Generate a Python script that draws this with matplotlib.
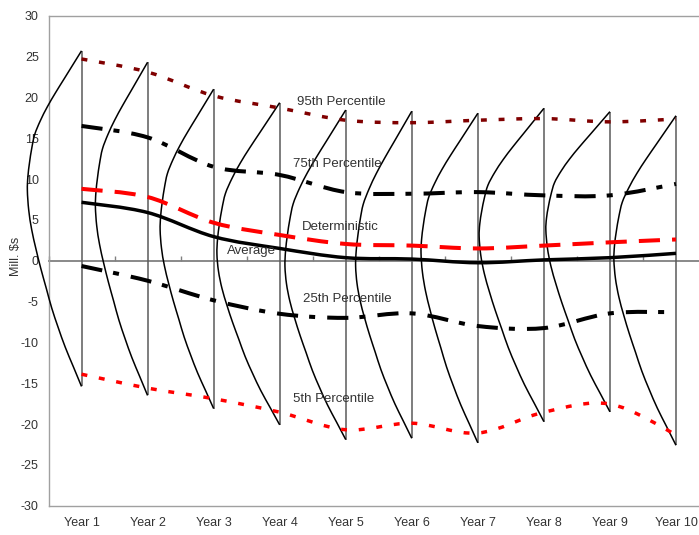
import numpy as np
import matplotlib
matplotlib.use("Agg")
import matplotlib.pyplot as plt
from matplotlib.path import Path
from matplotlib.patches import PathPatch

plt.rcParams["font.family"] = ["Liberation Sans", "DejaVu Sans"]
plt.rcParams["axes.unicode_minus"] = False

# ---- data -------------------------------------------------------------
years = ["Year 1", "Year 2", "Year 3", "Year 4", "Year 5",
         "Year 6", "Year 7", "Year 8", "Year 9", "Year 10"]

p95 = [24.7, 23.1, 20.2, 18.7, 17.2, 16.9, 17.2, 17.4, 17.0, 17.35]
p75 = [16.5, 15.1, 11.5, 10.5, 8.4, 8.2, 8.4, 8.0, 8.0, 9.4]
deterministic = [8.8, 7.8, 4.65, 3.15, 2.05, 1.85, 1.5, 1.85, 2.25, 2.6]
average = [7.15, 5.9, 2.95, 1.5, 0.37, 0.2, -0.25, 0.1, 0.37, 0.9]
p25 = [-0.65, -2.45, -4.85, -6.5, -7.0, -6.45, -8.0, -8.25, -6.45, -6.3]
p5 = [-13.9, -15.6, -16.9, -18.55, -20.7, -19.9, -21.1, -18.55, -17.55, -21.3]

# simulated distribution per year: range, most likely value, peak density
dist_max = [25.7, 24.3, 21.0, 19.35, 18.45, 18.3, 18.05, 18.65, 18.25, 17.75]
dist_min = [-15.4, -16.5, -18.1, -20.1, -21.9, -21.75, -22.3, -19.7, -18.5, -22.6]
dist_mode = [8.6, 6.6, 3.75, 0.8, -0.7, -0.7, 0.9, 2.95, 3.75, 0.1]
dist_peak = [0.82, 0.79, 0.81, 0.95, 0.92, 0.85, 0.86, 0.98, 0.97, 0.94]

# density shape (relative to the peak) above and below the mode
upper_frac = [0.0, 0.1, 0.2, 0.3, 0.4, 0.5, 0.6, 0.7, 0.8, 0.9, 1.0]
upper_dens = [1.0, 0.99, 0.96, 0.92, 0.865, 0.76, 0.63, 0.48, 0.32, 0.16, 0.0]
lower_frac = [0.0, 0.1, 0.2, 0.3, 0.4, 0.5, 0.6, 0.7, 0.8, 0.9, 1.0]
lower_dens = [1.0, 0.975, 0.92, 0.84, 0.75, 0.65, 0.55, 0.43, 0.30, 0.15, 0.0]


def smooth_path(xs, ys):
    """Catmull-Rom style smoothed path through the given points."""
    pts = np.column_stack([xs, ys]).astype(float)
    n = len(pts)
    verts = [pts[0]]
    codes = [Path.MOVETO]
    for i in range(n - 1):
        a = pts[i - 1] if i > 0 else pts[i]
        b = pts[i]
        c = pts[i + 1]
        d = pts[i + 2] if i + 2 < n else pts[i + 1]
        verts += [b + (c - a) / 6.0, c - (d - b) / 6.0, c]
        codes += [Path.CURVE4] * 3
    return Path(verts, codes)


W, H, DPI = 699, 535, 100
fig = plt.figure(figsize=(W / DPI, H / DPI), dpi=DPI)
left_px, right_px, top_px, bottom_px = 48.5, 709.0, 15.7, 505.7
ax = fig.add_axes([left_px / W, 1 - bottom_px / H,
                   (right_px - left_px) / W, (bottom_px - top_px) / H])

x = np.arange(1, len(years) + 1)

# distribution curves with their vertical baselines
ax.vlines(x, dist_min, dist_max, colors="#5a5a5a", lw=1.1, zorder=2)
for xi, lo, hi, mo, pk in zip(x, dist_min, dist_max, dist_mode, dist_peak):
    cx, cy = [], []
    for f, d in zip(upper_frac[::-1], upper_dens[::-1]):
        cx.append(xi - d * pk)
        cy.append(mo + f * (hi - mo))
    for f, d in zip(lower_frac[1:], lower_dens[1:]):
        cx.append(xi - d * pk)
        cy.append(mo - f * (mo - lo))
    ax.add_patch(PathPatch(smooth_path(cx, cy), fill=False, edgecolor="black",
                           lw=1.1, zorder=3, clip_on=False))

# percentile / summary lines
series = [
    (p95, "#800000", 2.5, (0, (1.7, 3.4))),
    (p75, "black", 2.9, (0, (5.25, 2.75, 1.5, 3.0))),
    (deterministic, "#ff0000", 2.9, (0, (5.25, 3.0))),
    (average, "black", 2.5, "solid"),
    (p25, "black", 2.9, (0, (5.25, 2.75, 1.5, 3.0))),
    (p5, "#ff0000", 2.5, (0, (1.7, 3.4))),
]
for vals, col, lw, ls in series:
    ax.add_patch(PathPatch(smooth_path(x, vals), fill=False, edgecolor=col,
                           lw=lw, linestyle=ls, capstyle="butt",
                           joinstyle="round", zorder=4))

labels = [
    ("95th Percentile", 4.26, 19.47),
    ("75th Percentile", 4.20, 11.8),
    ("Deterministic", 4.33, 4.16),
    ("Average", 3.20, 1.19),
    ("25th Percentile", 4.35, -4.73),
    ("5th Percentile", 4.20, -16.97),
]
for txt, lx, ly in labels:
    ax.text(lx, ly, txt, fontsize=9.5, color="#333333", ha="left",
            va="center", zorder=5)

# axes styling
ax.set_xlim(0.5, 10.5)
ax.set_ylim(-30, 30)
ax.set_yticks(np.arange(-30, 31, 5))
ax.set_xticks(x)
ax.set_xticklabels(years)
ax.tick_params(axis="y", length=0, pad=7, labelsize=9, labelcolor="#333333")
ax.tick_params(axis="x", length=0, pad=8, labelsize=9, labelcolor="#333333")
for side in ("left", "top", "bottom"):
    ax.spines[side].set_color("#a0a0a0")
    ax.spines[side].set_linewidth(1.0)
ax.spines["right"].set_visible(False)

# category axis crossing at zero
zero_axis = ax.secondary_xaxis(0.5)
zero_axis.set_xticks(np.arange(0.5, 10.6, 1.0))
zero_axis.tick_params(axis="x", direction="out", length=3.5, width=1.0,
                      color="#808080", labelbottom=False, labeltop=False)
for sp in zero_axis.spines.values():
    sp.set_color("#808080")
    sp.set_linewidth(1.3)

fig.text(16 / W, 1 - 256 / H, "Mill. \\$s", rotation=90, fontsize=9,
         color="#333333", ha="center", va="center")

fig.savefig("out.png", dpi=DPI)
